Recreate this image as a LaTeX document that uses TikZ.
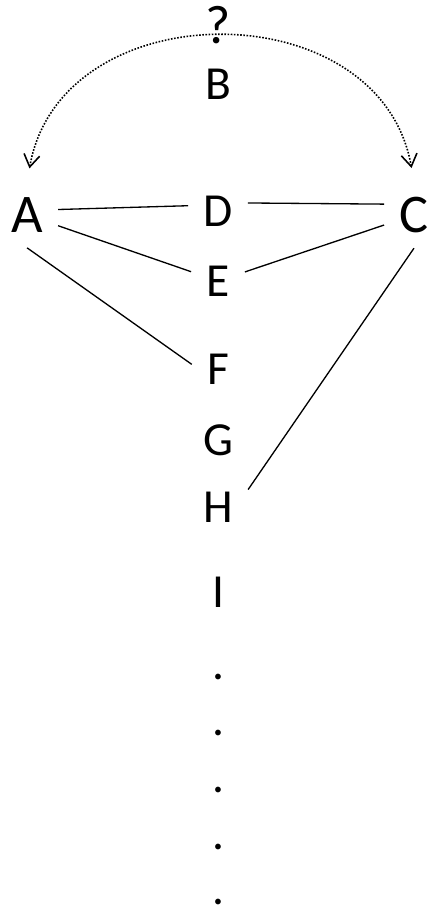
\documentclass[tikz,border=0pt]{standalone}
\usepackage{fontspec}
\setmainfont{Carlito}
\usetikzlibrary{arrows.meta, positioning}
\tikzset{
  letter/.style={font=\fontsize{27}{32}\selectfont, inner sep=0.3cm},
  bigletter/.style={letter, font=\fontsize{31}{37}\selectfont},
  ellipsis/.style={letter, inner sep=0.05cm},
  link/.style={line width=0.75pt},
  guess/.style={dash pattern=on 0.9pt off 0.9pt, line width=0.9pt,
                {Straight Barb[length=7pt, width=9pt]}-{Straight Barb[length=7pt, width=9pt]},
                shorten <=0.28cm, shorten >=0.28cm},
}
\begin{document}
\begin{tikzpicture}[x=0.02cm, y=-0.02cm, on grid]
  \useasboundingbox (0,0) rectangle (429,915);
  \node[letter] (D) at (218,211) {D};
  \node[letter, above=2.54cm of D] (B) {B};
  \node[bigletter, above=1.17cm of B] (q) {?};
  \node[bigletter, below left=0.08cm and 3.82cm of D] (A) {A};
  \node[bigletter, below right=0.08cm and 3.92cm of D] (C) {C};
  \node[letter, below=1.4cm of D] (E) {E};
  \node[letter, below=1.76cm of E] (F) {F};
  \node[letter, below=1.42cm of F] (G) {G};
  \node[letter, below=1.34cm of G] (H) {H};
  \node[letter, below=1.7cm of H] (I) {I};
  \node[ellipsis, below=1.7cm of I] (dot1) {.};
  \node[ellipsis, below=1.13cm of dot1] (dot2) {.};
  \node[ellipsis, below=1.14cm of dot2] (dot3) {.};
  \node[ellipsis, below=1.14cm of dot3] (dot4) {.};
  \node[ellipsis, below=1.1cm of dot4] (dot5) {.};
  \draw[link] (A.10) -- (D.170);
  \draw[link] (D.15) -- (C.160);
  \draw[link] (A) -- (E);
  \draw[link] (E) -- (C);
  \draw[link] (A.south) -- (F.170);
  \draw[link] (C.south) -- (H.30);
  \draw[guess] (A.north) to[out=80, in=100, looseness=1.29] (C.north);
\end{tikzpicture}
\end{document}
